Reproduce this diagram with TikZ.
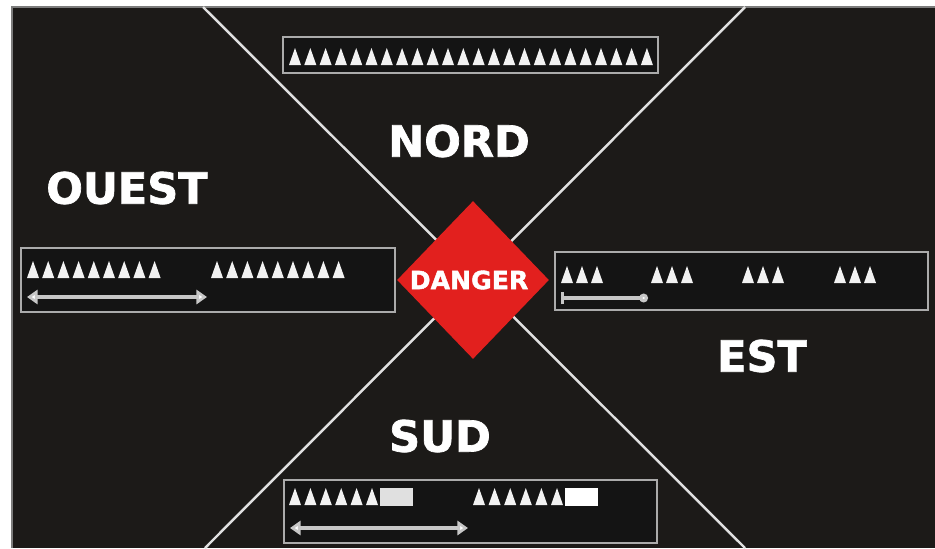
\documentclass[tikz,border=0pt]{standalone}
\usepackage{fontspec}
\newfontfamily\signfont[BoldFeatures={FakeBold=1.6}]{DejaVu Sans}
\usepackage{xcolor}
\usetikzlibrary{positioning,arrows.meta,shapes.geometric}
\definecolor{bgk}{HTML}{1C1A18}
\definecolor{rim}{HTML}{7C7C7C}
\definecolor{pnlgray}{HTML}{ABABAB}
\definecolor{sgnred}{HTML}{E2201E}
\tikzset{
  pnl/.style={draw=pnlgray,line width=1.6pt,fill=black!92},
  lbl/.style={text=white,font=\signfont\bfseries\fontsize{24.5}{24.5}\selectfont,inner sep=0pt},
  diag/.style={draw=white!88!black,line width=1.4pt},
  dgr/.style={shape=diamond,fill=sgnred,minimum width=3.04cm,minimum height=3.16cm,inner sep=0pt},
  darr/.style={draw=white!78!black,line width=2.2pt,{Triangle[width=8pt,length=6pt,fill=white]}-{Triangle[width=8pt,length=6pt,fill=white]}},
  tarr/.style={draw=white!78!black,line width=1.8pt,{Bar[width=7pt]}-{Circle[length=5pt,fill=white]}},
  spike/.pic={\fill[white!95!black] (-6,0) -- (0,-17) -- (6,0) -- cycle;},
}
\begin{document}
\begin{tikzpicture}[x=0.02cm,y=-0.02cm]
  \useasboundingbox (0,0) rectangle (935,548);
  \fill[white] (0,0) rectangle (935,548);
  \fill[bgk] (11,6) rectangle (935,548);
  \draw[rim,line width=1.7pt] (12,548) -- (12,7) -- (935,7);
  % diagonals
  \coordinate (nw) at (203,7);  \coordinate (se) at (745,548);
  \coordinate (ne) at (745,7);  \coordinate (sw) at (205,548);
  \draw[diag] (nw) -- (se);
  \draw[diag] (ne) -- (sw);
  % panels
  \draw[pnl] (283,37) rectangle (658,73);
  \draw[pnl] (21,248) rectangle (395,312);
  \draw[pnl] (555,252) rectangle (928,310);
  \draw[pnl] (284,480) rectangle (657,543);
  % nord
  \foreach \i in {0,...,23} \pic at ({295+15.3*\i},65) {spike};
  % ouest
  \foreach \i in {0,...,8} {
    \pic at ({33+15.2*\i},278) {spike};
    \pic at ({217+15.2*\i},278) {spike};
  }
  \coordinate (wa) at (27,297); \coordinate (wb) at (207,297);
  \draw[darr] (wa) -- (wb);
  % est
  \foreach \g in {567,657,748,840}
    \foreach \i in {0,1,2} \pic at ({\g+15*\i},283) {spike};
  \coordinate (ea) at (561,298); \coordinate (eb) at (648,298);
  \draw[tarr] (ea) -- (eb);
  % sud
  \foreach \i in {0,...,5} {
    \pic at ({295+15.4*\i},505) {spike};
    \pic at ({479+15.6*\i},505) {spike};
  }
  \fill[white!88!black] (380,488) rectangle (413,506);
  \fill[white] (565,488) rectangle (598,506);
  \coordinate (sa) at (290,528); \coordinate (sb) at (468,528);
  \draw[darr] (sa) -- (sb);
  % sign
  \node[dgr] (sign) at (473,280) {};
  \node[lbl,font=\signfont\bfseries\fontsize{14.3}{14.3}\selectfont] (dtxt) at (469,280) {DANGER};
  \node[lbl] (nord) at (459,141) {NORD};
  \node[lbl] (ouest) at (127,188) {OUEST};
  \node[lbl] (est) at (762,356) {EST};
  \node[lbl] (sud) at (440,436) {SUD};
\end{tikzpicture}
\end{document}
